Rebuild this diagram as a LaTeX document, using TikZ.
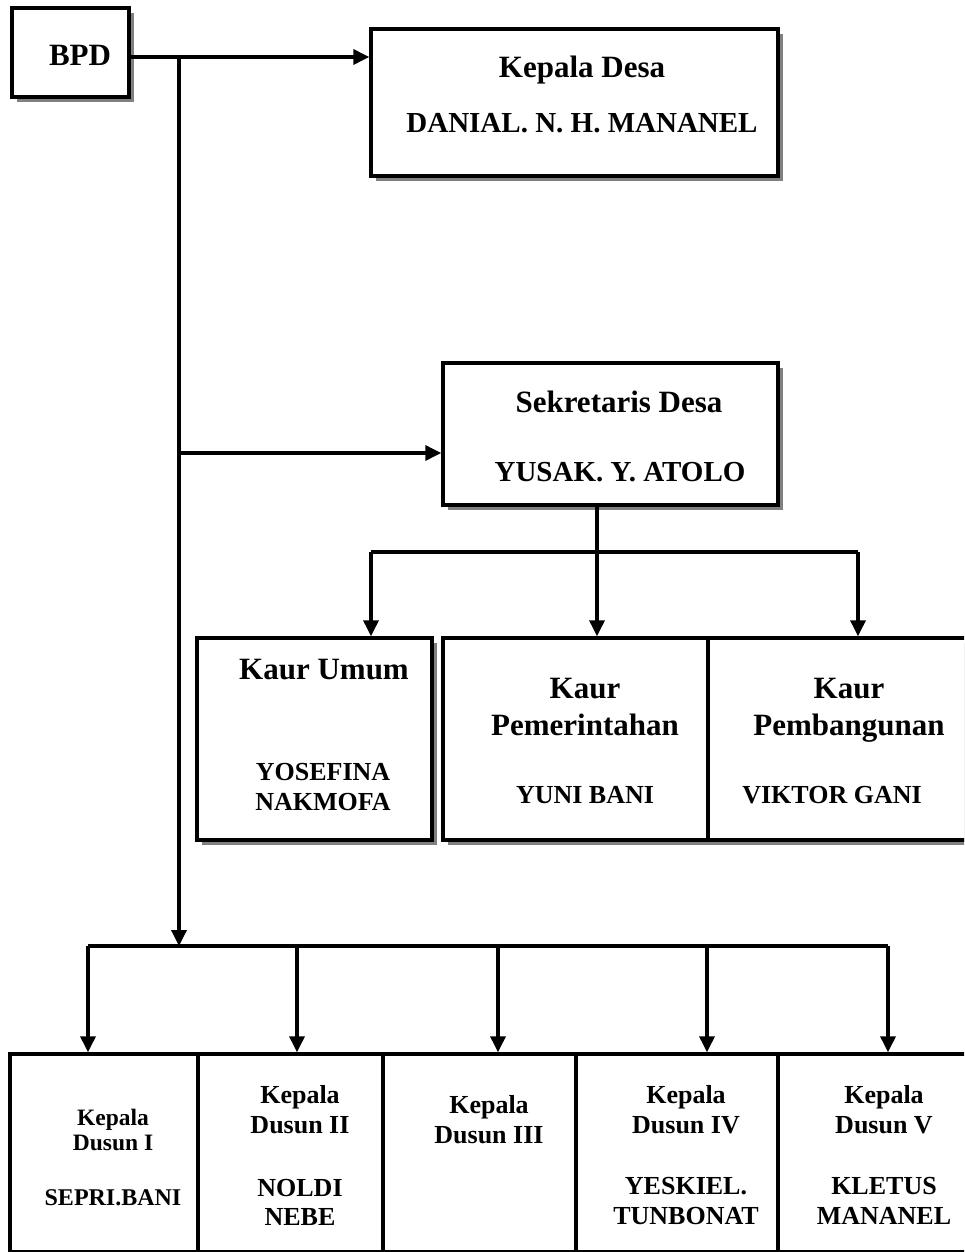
\documentclass[tikz,border=0pt]{standalone}
\usepackage{fontspec}
\setmainfont{Liberation Serif}
\usetikzlibrary{arrows.meta,shadows}
\newcommand\fsz[2]{\fontsize{#1}{#2}\selectfont}
\begin{document}
\begin{tikzpicture}[x=1pt,y=-1pt,
  box/.style={draw, line width=3.4pt, fill=white, inner sep=0pt, rectangle},
  shbox/.style={box, drop shadow={shadow xshift=5pt, shadow yshift=-5pt, fill=black!50, opacity=1}},
  ln/.style={line width=3.4pt},
  arr/.style={line width=3.4pt, -{Triangle[length=16pt,width=15pt]}},
  txt/.style={inner sep=0pt, align=center}]
\useasboundingbox (0,0) rectangle (964,1252);
\clip (0,0) rectangle (964,1252);
\fill[white] (0,0) rectangle (964,1252);

% boxes
\node[shbox, minimum width=117pt, minimum height=89pt] (bpd) at (70.5,52.5) {};
\node[shbox, minimum width=407pt, minimum height=147pt] (kd) at (574.5,102.5) {};
\node[shbox, minimum width=335pt, minimum height=142pt] (sd) at (610.5,434) {};
\node[shbox, minimum width=235pt, minimum height=202pt] (ku) at (314.5,739) {};
\node[shbox, minimum width=265pt, minimum height=202pt] (kp) at (575.5,739) {};
\node[shbox, minimum width=292pt, minimum height=202pt] (kb) at (854,739) {};
\node[box, minimum width=188pt, minimum height=198pt] (d1) at (104,1153) {};
\node[box, minimum width=185pt, minimum height=198pt] (d2) at (290.5,1153) {};
\node[box, minimum width=193pt, minimum height=198pt] (d3) at (479.5,1153) {};
\node[box, minimum width=202pt, minimum height=198pt] (d4) at (677,1153) {};
\node[box, minimum width=222pt, minimum height=198pt] (d5) at (889,1153) {};

% texts
\node[txt, font=\bfseries\fsz{31}{36}] (tbpd) at (80,55) {BPD};
\node[txt, font=\bfseries\fsz{31}{36}] (tkd1) at (582,70) {Kepala Desa};
\node[txt, font=\bfseries\fsz{29}{34}] (tkd2) at (582,123) {DANIAL. N. H. MANANEL};
\node[txt, font=\bfseries\fsz{31}{36}] (tsd1) at (619,402) {Sekretaris Desa};
\node[txt, font=\bfseries\fsz{29}{34}] (tsd2) at (620,472) {YUSAK. Y. ATOLO};
\node[txt, font=\bfseries\fsz{31}{36}] (tku1) at (324,670) {Kaur Umum};
\node[txt, font=\bfseries\fsz{26}{30}] (tku2) at (323,787) {YOSEFINA\\NAKMOFA};
\node[txt, font=\bfseries\fsz{31}{37}] (tkp1) at (585,706.5) {Kaur\\Pemerintahan};
\node[txt, font=\bfseries\fsz{26}{30}] (tkp2) at (585,795) {YUNI BANI};
\node[txt, font=\bfseries\fsz{31}{37}] (tkb1) at (849,710) {Kaur\\Pembangunan};
\node[txt, font=\bfseries\fsz{26}{30}] (tkb2) at (832,795) {VIKTOR GANI};
\node[txt, font=\bfseries\fsz{23.5}{25}] (td1a) at (113,1129.5) {Kepala\\Dusun I};
\node[txt, font=\bfseries\fsz{24}{28}] (td1b) at (113,1198) {SEPRI.BANI};
\node[txt, font=\bfseries\fsz{26}{30}] (td2a) at (300,1110) {Kepala\\Dusun II};
\node[txt, font=\bfseries\fsz{26}{29}] (td2b) at (300,1202.5) {NOLDI\\NEBE};
\node[txt, font=\bfseries\fsz{26}{30}] (td3a) at (489,1120) {Kepala\\Dusun III};
\node[txt, font=\bfseries\fsz{26}{30}] (td4a) at (686,1110) {Kepala\\Dusun IV};
\node[txt, font=\bfseries\fsz{26}{30}] (td4b) at (686,1201) {YESKIEL.\\TUNBONAT};
\node[txt, font=\bfseries\fsz{26}{30}] (td5a) at (884,1110) {Kepala\\Dusun V};
\node[txt, font=\bfseries\fsz{26}{30}] (td5b) at (884,1201) {KLETUS\\MANANEL};

% junction coordinates
\coordinate (j1) at (179,57);
\coordinate (j2) at (179,453);
\coordinate (j3) at (179,946);
\coordinate (s0) at (597,552);
\coordinate (s1) at (371,552);
\coordinate (s2) at (858,552);
\coordinate (b1) at (88,946);
\coordinate (b2) at (297,946);
\coordinate (b3) at (498,946);
\coordinate (b4) at (707,946);
\coordinate (b5) at (888,946);

% connectors
\draw[ln] (bpd.east |- j1) -- (j1);
\draw[arr] (j1) -- (j1 -| kd.west);
\draw[arr] (j1) -- (j3);
\draw[arr] (j2) -- (j2 -| sd.west);
\draw[arr] (sd.south -| s0) -- (kp.north -| s0);
\draw[ln] (s1) -- (s2);
\draw[arr] (s1) -- (s1 |- ku.north);
\draw[arr] (s2) -- (s2 |- kb.north);
\draw[ln] (b1) -- (b5);
\draw[arr] (b1) -- (b1 |- d1.north);
\draw[arr] (b2) -- (b2 |- d2.north);
\draw[arr] (b3) -- (b3 |- d3.north);
\draw[arr] (b4) -- (b4 |- d4.north);
\draw[arr] (b5) -- (b5 |- d5.north);
\end{tikzpicture}
\end{document}
